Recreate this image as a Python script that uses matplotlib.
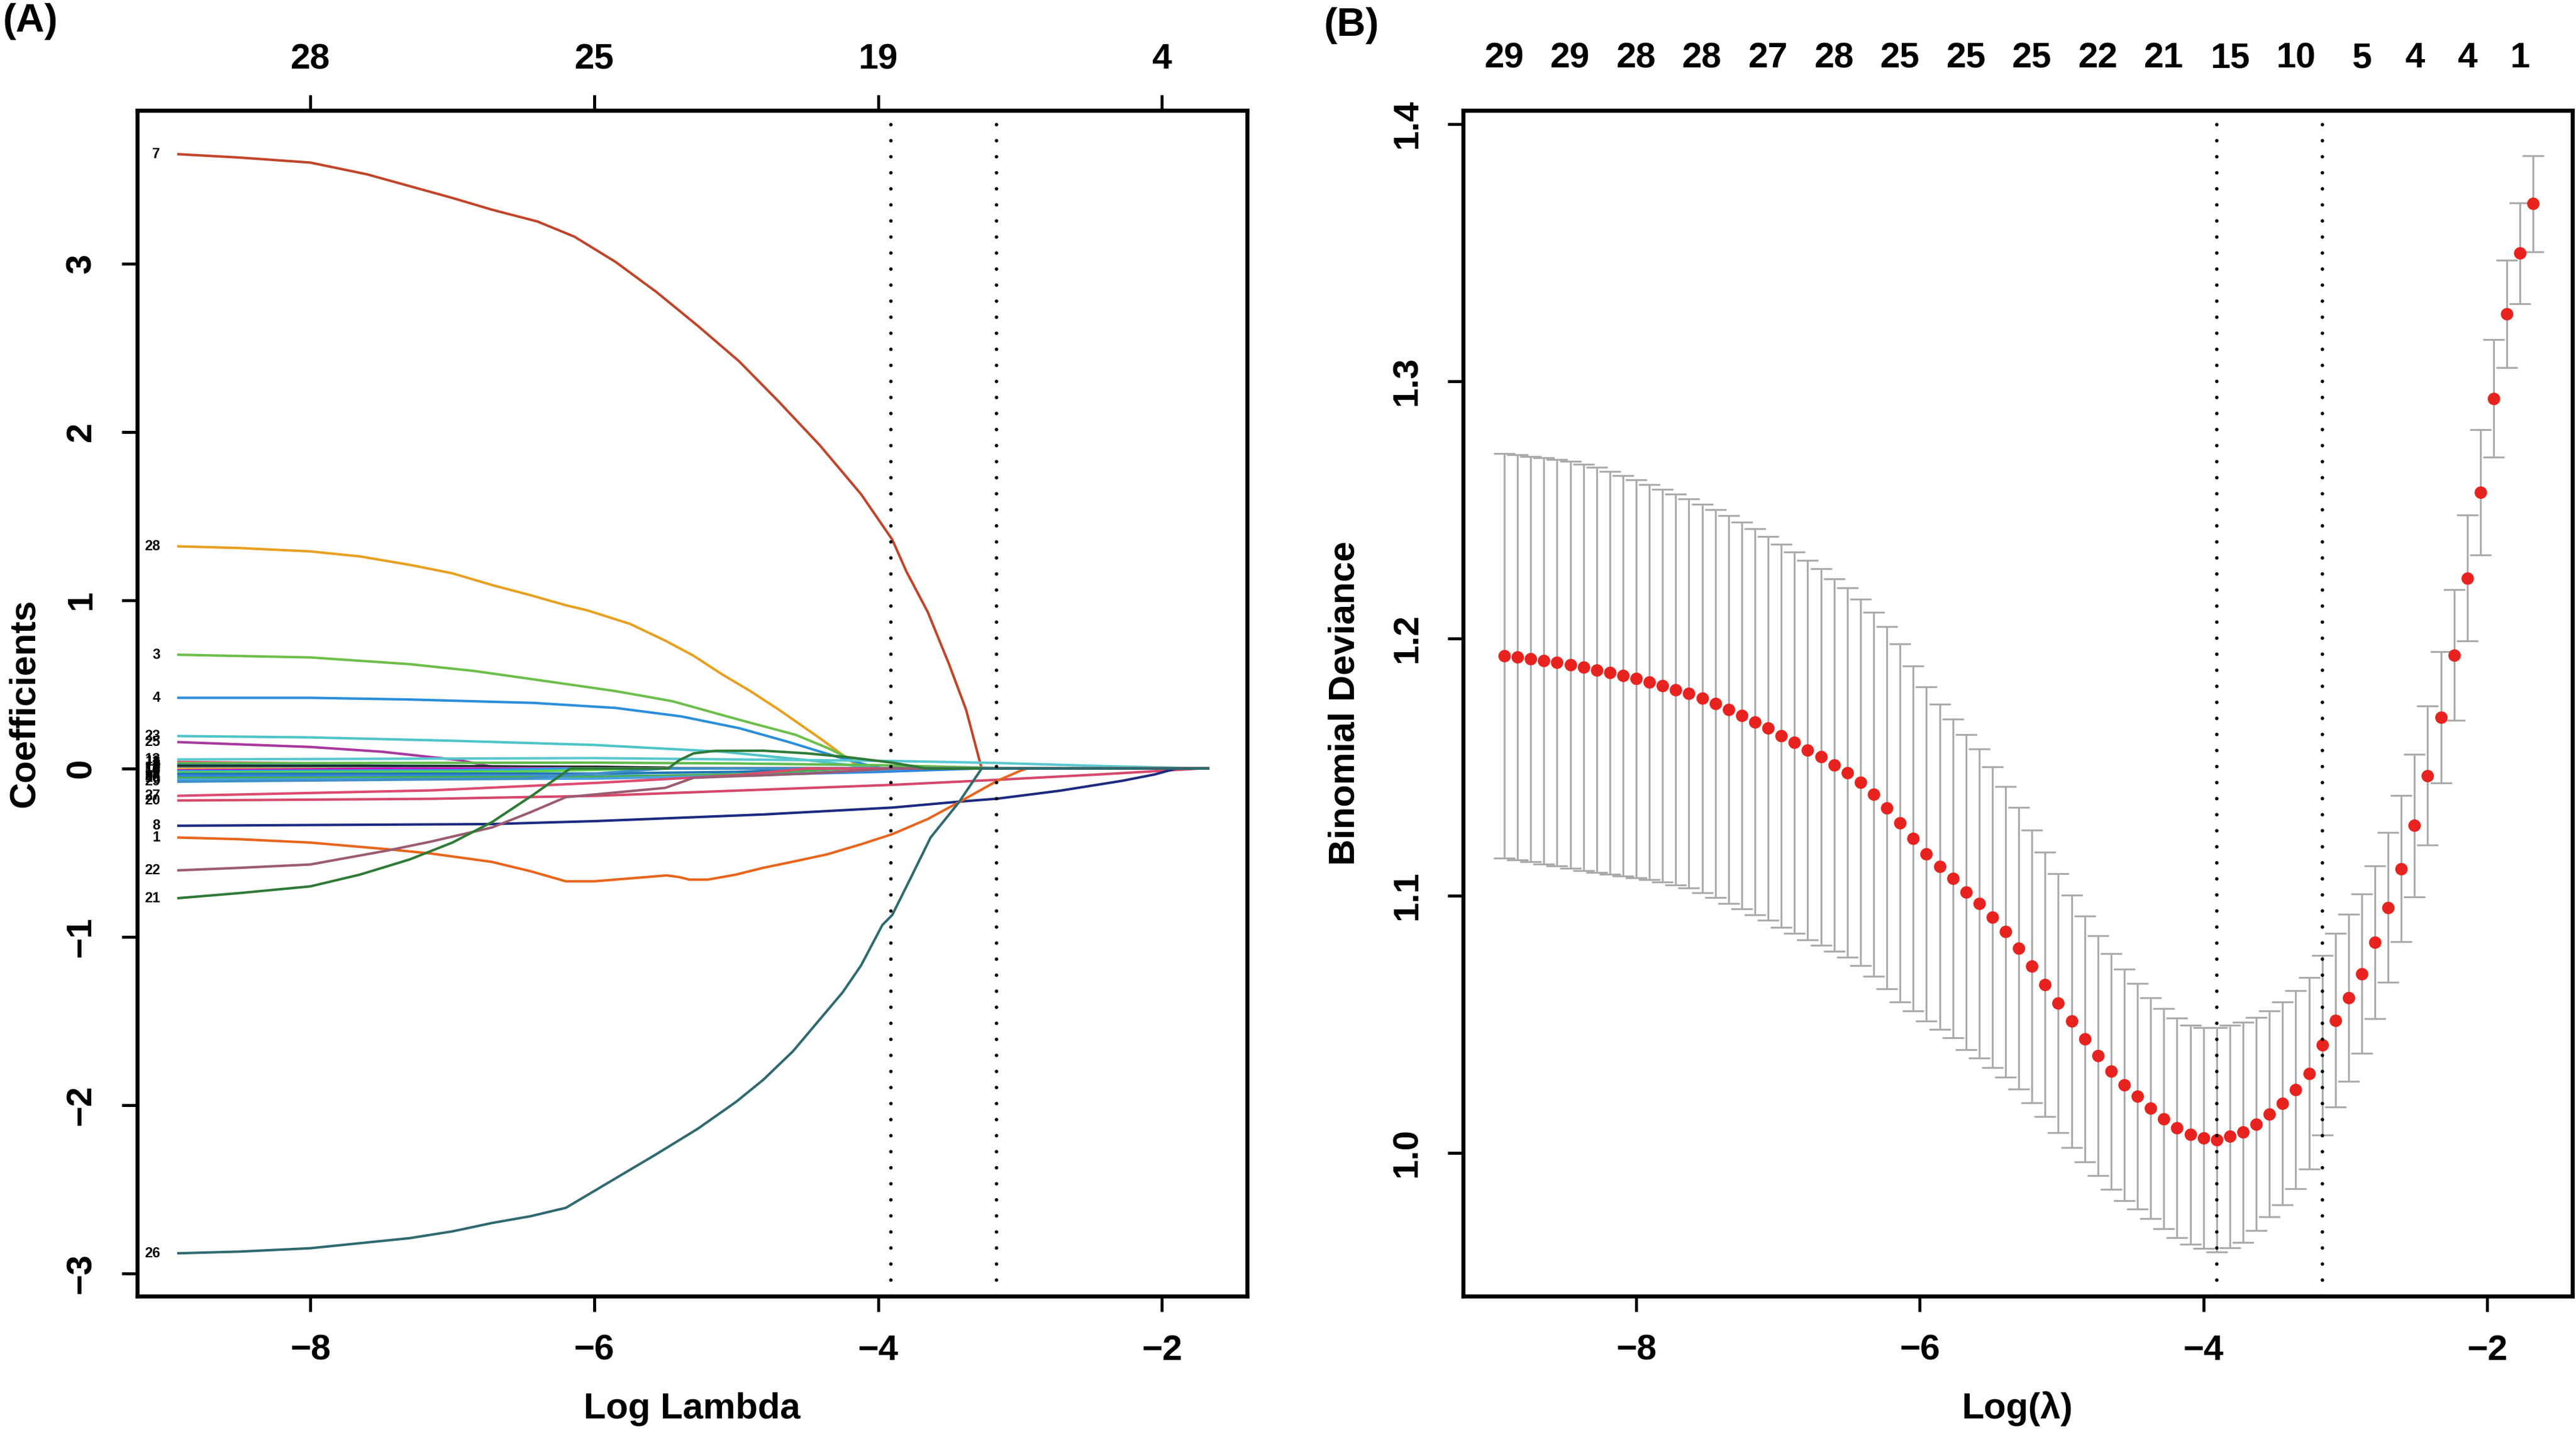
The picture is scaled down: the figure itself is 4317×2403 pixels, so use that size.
import numpy as np
import matplotlib
matplotlib.use("Agg")
import matplotlib.pyplot as plt

plt.rcParams['font.family'] = ['Liberation Sans', 'DejaVu Sans']
plt.rcParams['font.weight'] = 'bold'
plt.rcParams['axes.labelweight'] = 'bold'

# ---- panel A: coefficient paths (knots) ----
# (label, colour, log lambda knots, coefficient at knots)
paths = [
    (7, '#C0452A', [-8.93, -8.5, -8.0, -7.6, -7.30, -7.0, -6.72, -6.4, -6.14, -5.85, -5.56, -5.27, -4.98, -4.7, -4.41, -4.12, -3.90, -3.80, -3.65, -3.50, -3.38, -3.27],
        [3.65, 3.63, 3.60, 3.53, 3.46, 3.39, 3.32, 3.25, 3.16, 3.01, 2.83, 2.63, 2.42, 2.18, 1.92, 1.63, 1.36, 1.17, 0.93, 0.62, 0.35, 0.0]),
    (28, '#E8A020', [-8.93, -8.5, -8.0, -7.65, -7.30, -7.0, -6.72, -6.45, -6.20, -6.05, -5.75, -5.50, -5.30, -5.10, -4.90, -4.70, -4.41, -4.12],
        [1.32, 1.31, 1.29, 1.26, 1.21, 1.16, 1.09, 1.03, 0.97, 0.94, 0.86, 0.76, 0.67, 0.56, 0.46, 0.35, 0.18, 0.0]),
    (3, '#6CBF4A', [-8.93, -8.0, -7.30, -6.85, -6.43, -5.85, -5.45, -4.98, -4.58, -4.35, -4.18, -4.05],
        [0.676, 0.66, 0.62, 0.58, 0.53, 0.46, 0.40, 0.29, 0.20, 0.12, 0.05, 0.0]),
    (4, '#2B8FD9', [-8.93, -8.0, -7.30, -6.43, -5.85, -5.39, -4.98, -4.64, -4.29, -4.03, -3.95],
        [0.42, 0.42, 0.41, 0.39, 0.36, 0.31, 0.24, 0.16, 0.07, 0.01, 0.0]),
    (23, '#4EC4C8', [-8.93, -8.0, -7.0, -6.0, -5.1, -4.5, -4.0],
        [0.193, 0.185, 0.165, 0.14, 0.10, 0.05, 0.0]),
    (25, '#A8389E', [-8.93, -8.0, -7.5, -7.15, -6.95, -6.66],
        [0.157, 0.128, 0.10, 0.068, 0.05, 0.0]),
    (13, '#58C8D0', [-8.93, -6.0, -3.90, -3.16, -2.44, -1.70],
        [0.054, 0.062, 0.045, 0.033, 0.015, 0.0]),
    (11, '#E05575', [-8.93, -7.9, -7.0],
        [0.039, 0.03, 0.0]),
    (5, '#62BA4C', [-8.93, -6.0, -5.0, -4.0, -3.5, -3.0],
        [0.031, 0.035, 0.03, 0.02, 0.01, 0.0]),
    (2, '#2A7070', [-8.93, -7.0, -6.0, -5.5],
        [0.021, 0.015, 0.005, 0.0]),
    (9, '#111111', [-8.93, -7.0, -6.0, -5.5, -5.4],
        [0.012, 0.012, 0.010, 0.005, 0.0]),
    (18, '#3BB0C0', [-8.93, -6.5, -5.0],
        [0.004, 0.003, 0.0]),
    (12, '#7F7F7F', [-8.93, -7.5, -6.5],
        [0.002, 0.001, 0.0]),
    (14, '#F5C710', [-8.93, -7.8, -7.0],
        [-0.004, -0.002, 0.0]),
    (15, '#CD0BBC', [-8.93, -8.0, -7.4],
        [-0.010, -0.005, 0.0]),
    (16, '#28A0E5', [-8.93, -7.0, -6.0],
        [-0.016, -0.010, 0.0]),
    (17, '#61D04F', [-8.93, -6.5, -5.6],
        [-0.024, -0.018, 0.0]),
    (19, '#1F77B4', [-8.93, -6.0, -5.0, -4.3],
        [-0.032, -0.030, -0.020, 0.0]),
    (24, '#2E86DE', [-8.93, -6.0, -5.0, -4.0, -3.3],
        [-0.044, -0.045, -0.040, -0.020, 0.0]),
    (10, '#4CAF50', [-8.93, -6.0, -5.0, -4.2],
        [-0.056, -0.050, -0.035, 0.0]),
    (6, '#4AA3DF', [-8.93, -6.0, -4.8, -3.8],
        [-0.067, -0.060, -0.040, 0.0]),
    (29, '#3F8FC8', [-8.93, -6.5, -5.5],
        [-0.078, -0.060, 0.0]),
    (27, '#DD4B6E', [-8.93, -7.15, -5.98, -5.0, -4.5],
        [-0.162, -0.13, -0.085, -0.04, 0.0]),
    (20, '#D6486A', [-8.93, -7.15, -5.98, -3.90, -3.16, -2.44, -1.73],
        [-0.19, -0.18, -0.162, -0.097, -0.067, -0.035, 0.0]),
    (8, '#1C2A80', [-8.93, -6.72, -5.98, -4.81, -3.90, -3.43, -3.16, -2.72, -2.28, -2.05, -1.90],
        [-0.34, -0.33, -0.312, -0.273, -0.232, -0.197, -0.179, -0.132, -0.073, -0.035, 0.0]),
    (1, '#E8651C', [-8.93, -8.5, -8.0, -7.45, -7.15, -6.72, -6.45, -6.20, -6.0, -5.49, -5.40, -5.33, -5.2, -5.0, -4.81, -4.58, -4.36, -4.12, -3.90, -3.65, -3.43, -3.16, -3.0, -2.95],
        [-0.41, -0.42, -0.44, -0.48, -0.505, -0.555, -0.61, -0.67, -0.67, -0.635, -0.645, -0.66, -0.66, -0.63, -0.59, -0.55, -0.51, -0.45, -0.39, -0.30, -0.20, -0.073, -0.014, 0.0]),
    (22, '#9C5A72', [-8.93, -8.5, -8.0, -7.45, -7.15, -6.72, -6.45, -6.20, -5.50, -5.30, -4.5, -3.9],
        [-0.605, -0.59, -0.57, -0.486, -0.434, -0.35, -0.26, -0.17, -0.115, -0.055, -0.03, 0.0]),
    (21, '#2E7A36', [-8.93, -8.5, -8.0, -7.65, -7.30, -7.0, -6.72, -6.43, -6.20, -6.17, -5.48, -5.40, -5.30, -5.15, -4.81, -4.50, -4.22, -3.90, -3.66],
        [-0.77, -0.74, -0.70, -0.63, -0.54, -0.44, -0.318, -0.156, -0.018, 0.0, 0.0, 0.05, 0.09, 0.105, 0.106, 0.09, 0.068, 0.035, 0.0]),
    (26, '#2F6A70', [-8.93, -8.5, -8.0, -7.65, -7.30, -7.0, -6.72, -6.45, -6.20, -5.90, -5.56, -5.27, -5.0, -4.81, -4.6, -4.41, -4.25, -4.12, -3.97, -3.90, -3.77, -3.63, -3.43, -3.27],
        [-2.88, -2.87, -2.85, -2.82, -2.79, -2.75, -2.70, -2.66, -2.61, -2.46, -2.29, -2.14, -1.98, -1.85, -1.68, -1.49, -1.33, -1.17, -0.93, -0.87, -0.65, -0.41, -0.20, 0.0]),
]
path_end = -1.676
top_ticks_a = [-8, -6, -4, -2]
top_labels_a = ['28', '25', '19', '4']

# ---- panel B: cross-validated binomial deviance ----
log_lambda = [-8.930, -8.837, -8.744, -8.651, -8.558, -8.465, -8.372, -8.279, -8.186, -8.093,
              -8.000, -7.907, -7.814, -7.721, -7.628, -7.535, -7.442, -7.349, -7.256, -7.163,
              -7.070, -6.977, -6.884, -6.791, -6.698, -6.605, -6.512, -6.419, -6.326, -6.233,
              -6.140, -6.047, -5.954, -5.861, -5.768, -5.675, -5.582, -5.489, -5.396, -5.303,
              -5.210, -5.117, -5.024, -4.931, -4.838, -4.745, -4.652, -4.559, -4.466, -4.373,
              -4.280, -4.187, -4.094, -4.001, -3.908, -3.815, -3.722, -3.629, -3.536, -3.443,
              -3.350, -3.257, -3.164, -3.071, -2.978, -2.885, -2.792, -2.699, -2.606, -2.513,
              -2.420, -2.327, -2.234, -2.141, -2.048, -1.955, -1.862, -1.769, -1.676]
cv_mean = [1.1932, 1.1927, 1.1920, 1.1913, 1.1907, 1.1897, 1.1888, 1.1878, 1.1867, 1.1855,
           1.1844, 1.1830, 1.1817, 1.1801, 1.1786, 1.1767, 1.1747, 1.1724, 1.1701, 1.1676,
           1.1651, 1.1622, 1.1595, 1.1566, 1.1540, 1.1508, 1.1478, 1.1441, 1.1395, 1.1342,
           1.1283, 1.1223, 1.1163, 1.1113, 1.1067, 1.1014, 1.0970, 1.0916, 1.0860, 1.0796,
           1.0726, 1.0655, 1.0583, 1.0512, 1.0444, 1.0378, 1.0317, 1.0265, 1.0220, 1.0174,
           1.0133, 1.0098, 1.0071, 1.0058, 1.0052, 1.0064, 1.0081, 1.0112, 1.0151, 1.0193,
           1.0245, 1.0309, 1.0419, 1.0516, 1.0603, 1.0697, 1.0819, 1.0954, 1.1105, 1.1273,
           1.1467, 1.1693, 1.1936, 1.2235, 1.2568, 1.2933, 1.3262, 1.3498, 1.3690]
cv_se = [0.0787, 0.0787, 0.0788, 0.0790, 0.0790, 0.0791, 0.0790, 0.0787, 0.0783, 0.0779,
         0.0774, 0.0768, 0.0764, 0.0760, 0.0757, 0.0756, 0.0755, 0.0754, 0.0752, 0.0750,
         0.0746, 0.0744, 0.0741, 0.0737, 0.0732, 0.0725, 0.0718, 0.0712, 0.0708, 0.0704,
         0.0697, 0.0670, 0.0650, 0.0632, 0.0620, 0.0612, 0.0600, 0.0585, 0.0565, 0.0547,
         0.0530, 0.0514, 0.0503, 0.0491, 0.0478, 0.0466, 0.0458, 0.0450, 0.0438, 0.0430,
         0.0428, 0.0427, 0.0426, 0.0429, 0.0436, 0.0432, 0.0428, 0.0414, 0.0400, 0.0395,
         0.0385, 0.0372, 0.0350, 0.0338, 0.0324, 0.0310, 0.0298, 0.0291, 0.0284, 0.0277,
         0.0270, 0.0255, 0.0254, 0.0245, 0.0243, 0.0229, 0.0209, 0.0196, 0.0187]
nz_pos = [-8.930, -8.465, -8.000, -7.535, -7.070, -6.605, -6.140, -5.675, -5.210, -4.745,
          -4.280, -3.815, -3.350, -2.885, -2.513, -2.141, -1.769]
nz_labels = ['29', '29', '28', '28', '27', '28', '25', '25', '25', '22',
             '21', '15', '10', '5', '4', '4', '1']
lambda_min = -3.908
lambda_1se = -3.164

# ---- drawing ----
fig = plt.figure(figsize=(43.17, 24.03), dpi=100)
axA = fig.add_axes([0.0533, 0.0961, 0.4308, 0.8269])
axB = fig.add_axes([0.5680, 0.0961, 0.4306, 0.8269])

for lab, col, xs, ys in paths:
    axA.plot(xs + [path_end], ys + [0.0], color=col, lw=3.0, solid_joinstyle='round')
for lab, col, xs, ys in paths:
    axA.annotate(str(lab), (xs[0], ys[0]), xytext=(-22, 0), textcoords='offset points',
                 ha='right', va='center', fontsize=17, fontweight='bold')

axB.errorbar(log_lambda, cv_mean, yerr=cv_se, fmt='none', ecolor='#ABABAB',
             elinewidth=2.3, capsize=13, capthick=2.3)
axB.plot(log_lambda, cv_mean, 'o', color='#E8231F', ms=15, mec='none')

for ax in (axA, axB):
    ax.set_xlim(-9.22, -1.40)
    for v in (lambda_min, lambda_1se):
        ax.axvline(v, color='black', lw=4.2, linestyle=(0, (0.01, 4.6)), dash_capstyle='round')
    for s in ax.spines.values():
        s.set_linewidth(4.8)
    ax.set_xticks([-8, -6, -4, -2])
    ax.tick_params(axis='both', length=18.7, width=3.6, labelsize=43)
    ax.tick_params(axis='x', pad=27)
    ax.tick_params(axis='y', pad=29)

axA.set_ylim(-3.135, 3.91)
axA.set_yticks([-3, -2, -1, 0, 1, 2, 3])
axB.set_ylim(0.9443, 1.4053)
axB.set_yticks([1.0, 1.1, 1.2, 1.3, 1.4], labels=['1.0', '1.1', '1.2', '1.3', '1.4'])
for ax in (axA, axB):
    plt.setp(ax.get_yticklabels(), rotation=90, va='center', ha='right', fontweight='bold')
    plt.setp(ax.get_xticklabels(), fontweight='bold')

topA = axA.secondary_xaxis('top')
topA.set_xticks(top_ticks_a, labels=top_labels_a)
topA.tick_params(length=18.7, width=3.6, labelsize=43, pad=23)
topA.spines['top'].set_linewidth(4.8)

topB = axB.secondary_xaxis('top')
topB.set_xticks(nz_pos, labels=nz_labels)
topB.tick_params(length=0, labelsize=43, pad=43)
topB.spines['top'].set_linewidth(4.8)
for t in (topA, topB):
    plt.setp(t.get_xticklabels(), fontweight='bold')

axA.set_xlabel('Log Lambda', fontsize=44, fontweight='bold')
axA.set_ylabel('Coefficients', fontsize=44, fontweight='bold')
axB.set_xlabel('Log(\u03bb)', fontsize=44, fontweight='bold')
axB.set_ylabel('Binomial Deviance', fontsize=44, fontweight='bold')
for ax in (axA, axB):
    ax.xaxis.label.set_va('baseline')
    ax.xaxis.set_label_coords(0.5, -0.103)
axA.yaxis.set_label_coords(-0.086, 0.5)
axB.yaxis.set_label_coords(-0.091, 0.5)

fig.text(0.001, 0.998, '(A)', fontsize=48, fontweight='bold', ha='left', va='top')
fig.text(0.514, 0.995, '(B)', fontsize=48, fontweight='bold', ha='left', va='top')

fig.savefig('out.png', dpi=100)
